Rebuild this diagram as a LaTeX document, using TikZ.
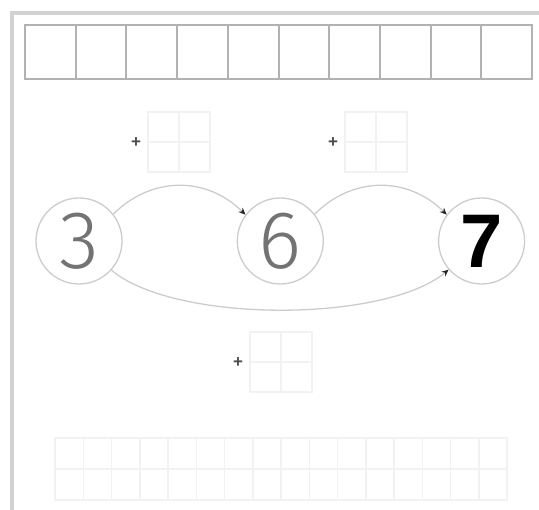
\documentclass[tikz,border=0pt]{standalone}
\usepackage{fontspec}
\setmainfont{Liberation Sans}
\newfontfamily\thindigits{Fira Sans Light}
\usepackage{tikz}
\usetikzlibrary{arrows.meta,positioning}

\begin{document}
\begin{tikzpicture}[
  x=1pt, y=1pt,
  frameline/.style={draw=gray!35, line width=4pt},
  cellbox/.style={draw=gray!60, line width=2pt},
  faint/.style={draw=gray!10, line width=1.5pt},
  plusmark/.style={text=black!70, font=\bfseries\fontsize{17}{17}\selectfont, inner sep=0pt},
  numcircle/.style={circle, draw=gray!40, line width=1.3pt, minimum size=86pt, inner sep=0pt},
  arr/.style={-{Stealth[length=7pt, width=6pt, color=black!85]}, draw=gray!40, line width=1.3pt},
  node distance=114pt
]
\useasboundingbox (0,0) rectangle (539,510);

% frame
\draw[frameline] (12,0) -- (12,497) -- (539,497);

% top row of boxes
\foreach \i in {0,...,9}
  \draw[cellbox] (25+50.7*\i,431) rectangle ++(50.7,54);

% small answer grids with plus signs
\foreach \gx/\gy/\name in {148/338/a, 345/338/b, 250/118/c} {
  \draw[faint] (\gx,\gy) rectangle ++(62,60);
  \draw[faint] (\gx+31,\gy) -- ++(0,60);
  \draw[faint] (\gx,\gy+30) -- ++(62,0);
  \node[plusmark] (plus\name) at (\gx-12,\gy+29) {+};
}

% bottom grid
\draw[faint, shift={(55,10)}] (0,0) grid[xstep=28.25pt, ystep=31pt] (452,62);
\draw[faint] (55,10) rectangle (507,72);

% number circles
\node[numcircle, font=\thindigits\fontsize{82}{82}\selectfont, text=black!55] (three) at (79,269) {3};
\node[numcircle, right=of three, font=\thindigits\fontsize{82}{82}\selectfont, text=black!55] (six) {6};
\node[numcircle, right=of six, font=\bfseries\fontsize{76}{76}\selectfont, text=black] (seven) {7};

% jumps
\draw[arr] (three.38) to[out=45, in=135, looseness=1.05] (six.143);
\draw[arr] (six.38) to[out=45, in=135, looseness=1.05] (seven.143);
\draw[arr] (three.-42) to[out=-40, in=-140, looseness=0.63] (seven.-139);
\end{tikzpicture}
\end{document}
